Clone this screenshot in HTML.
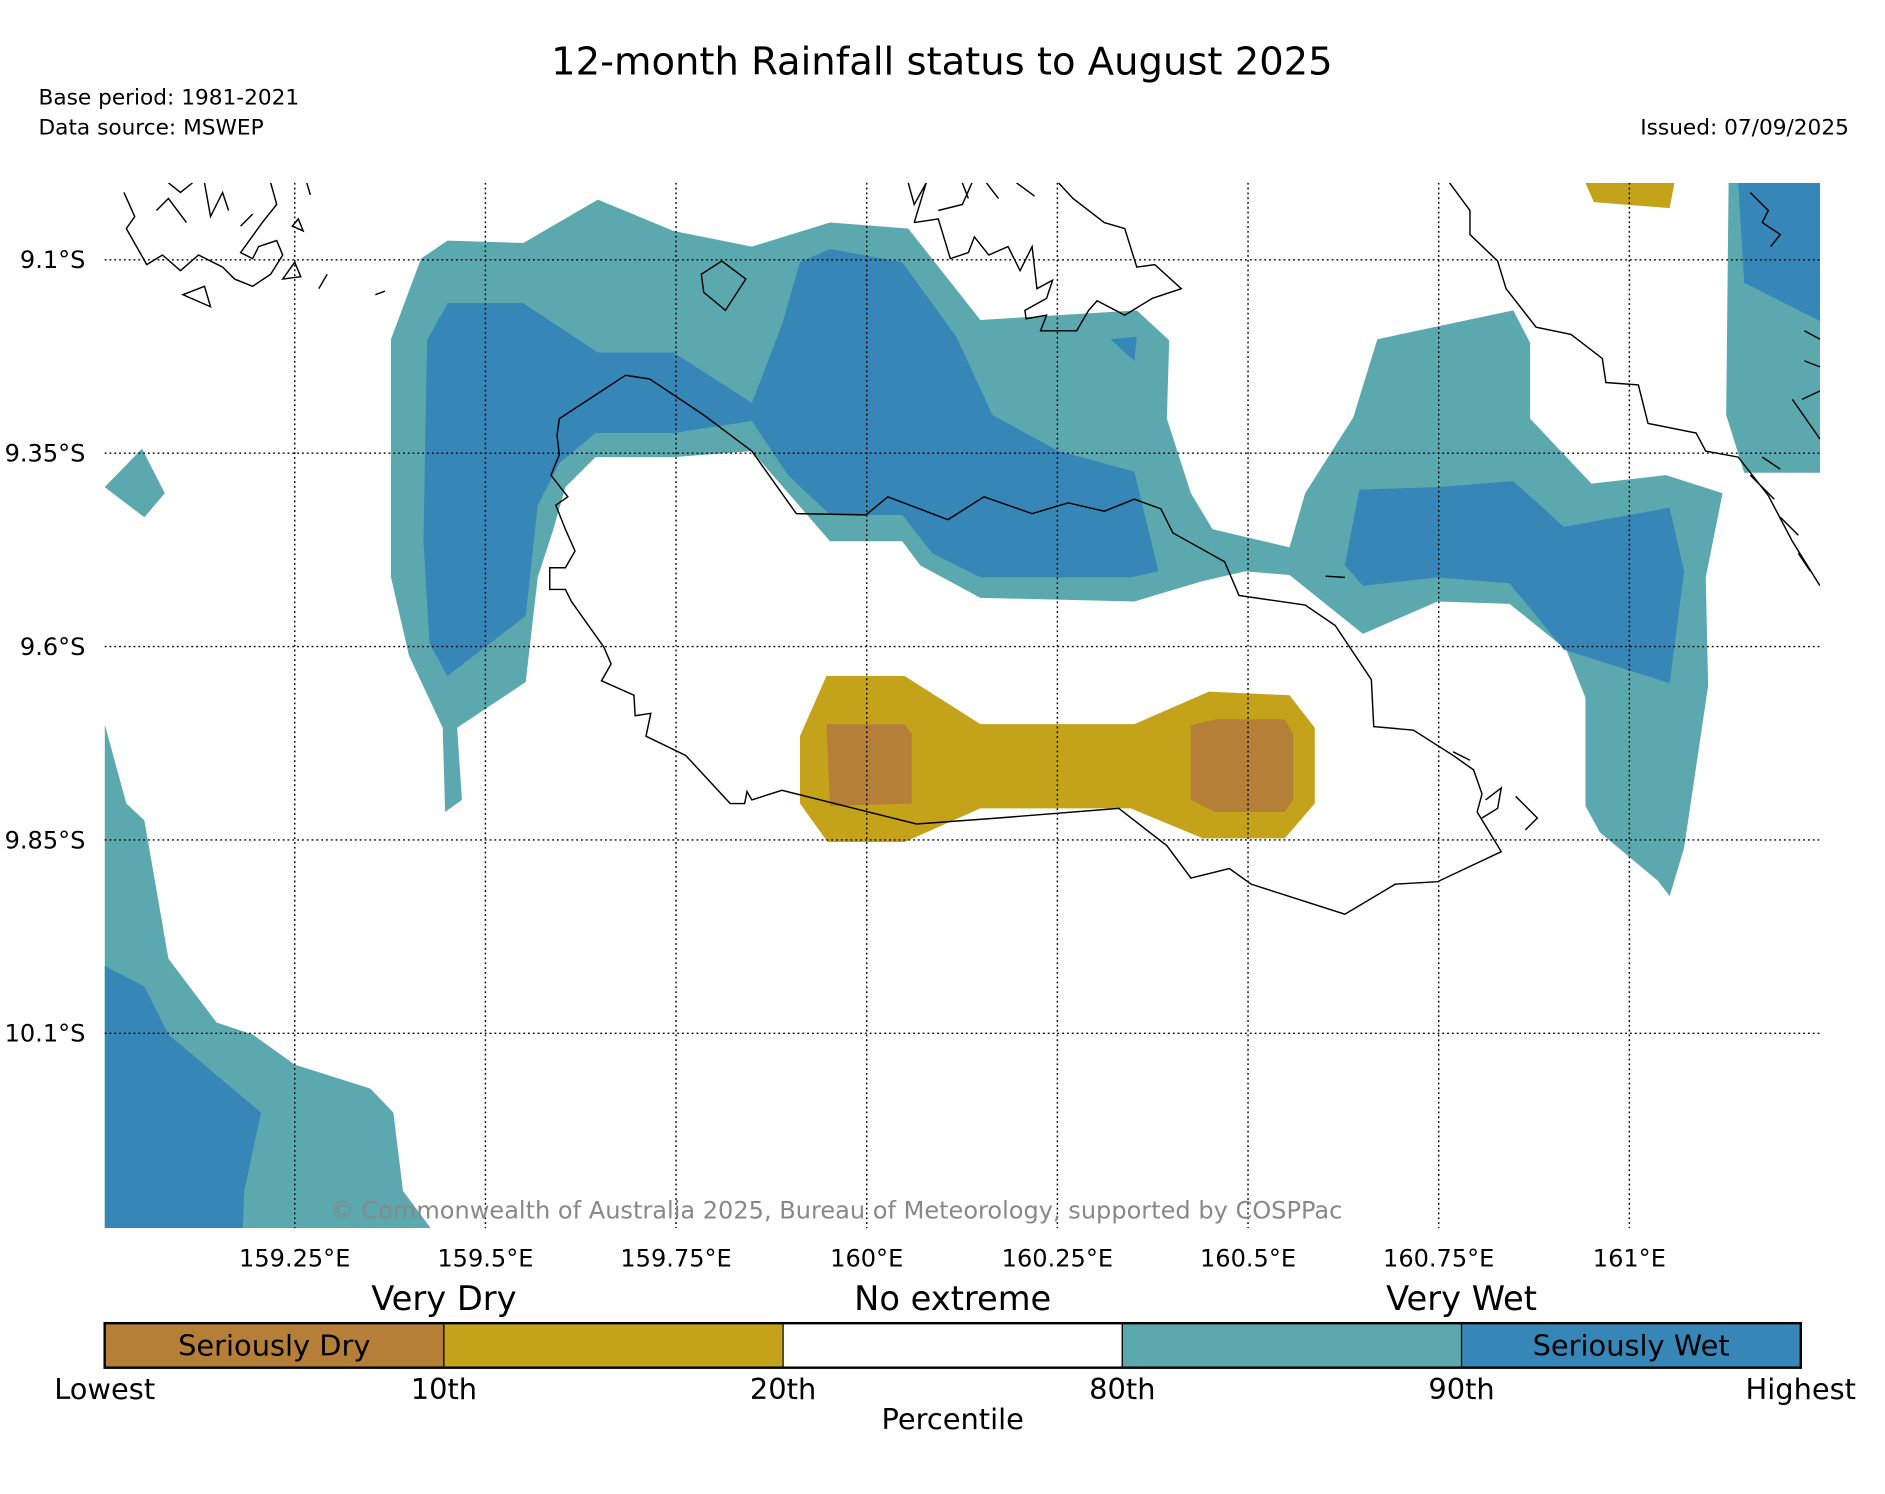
<!DOCTYPE html>
<html><head><meta charset="utf-8"><style>html,body{margin:0;padding:0;background:#fff}svg{display:block}text{font-family:"DejaVu Sans","Liberation Sans",sans-serif}</style></head>
<body>
<svg id="chart" width="1885" height="1494" viewBox="0 0 1567 1242" xmlns="http://www.w3.org/2000/svg">
<rect width="1567" height="1242" fill="#fff"/>
<text x="783" y="62" font-size="32" text-anchor="middle">12-month Rainfall status to August 2025</text>
<text x="32" y="87" font-size="18">Base period: 1981-2021</text>
<text x="32" y="112" font-size="18">Data source: MSWEP</text>
<text x="1537" y="112" font-size="18" text-anchor="end">Issued: 07/09/2025</text>
<g id="map">
<clipPath id="clip"><rect x="87" y="152" width="1426" height="869"/></clipPath>
<g clip-path="url(#clip)">
<g fill="#5ba9ae">
<polygon points="325,282 350,215 372,200 435,202 497,166 560,192 625,205 690,185 755,190 815,266 945,258 972,283 970,348 990,410 1008,440 1072,455 1085,410 1125,347 1145,282 1258,258 1272,285 1272,348 1323,402 1385,395 1432,410 1418,480 1420,570 1400,705 1388,745 1378,732 1330,692 1318,670 1318,580 1302,540 1255,502 1195,500 1133,527 1072,478 1035,475 1000,483 943,500 815,497 765,470 750,450 690,450 625,375 560,380 495,380 470,405 460,440 447,480 437,567 380,605 384,665 370,675 368,605 340,545 325,480"/>
<polygon points="1437,152 1513,152 1513,393 1450,393 1435,345"/>
<polygon points="87,405 118,373 137,410 120,430"/>
<polygon points="87,602 105,668 120,682 140,797 180,850 210,860 245,885 308,905 327,925 335,990 358,1021 87,1021"/>
</g>
<g fill="#3786b8">
<polygon points="355,283 372,252 435,252 497,293 560,293 625,335 650,270 665,218 690,207 750,218 795,280 825,345 880,375 943,392 963,475 940,480 815,480 775,460 750,428 690,428 655,395 625,350 560,360 495,360 465,385 447,420 437,512 372,562 357,535 352,450"/>
<polygon points="1118,470 1130,407 1195,405 1258,400 1300,438 1388,422 1400,475 1388,568 1300,540 1255,485 1195,480 1133,487"/>
<polygon points="1445,152 1513,152 1513,267 1450,235"/>
<polygon points="87,803 120,820 140,860 217,925 203,990 202,1021 87,1021"/>
<polygon points="923,282 945,280 943,300"/>
</g>
<g>
<polygon fill="#c4a31b" points="687,562 752,562 815,602 943,602 1005,575 1072,578 1093,605 1093,668 1068,697 1000,697 940,672 815,672 752,700 688,700 665,668 665,612"/>
<polygon fill="#c4a31b" points="1318,152 1392,152 1388,173 1325,168"/>
<polygon fill="#b67f37" points="687,602 752,602 758,610 758,668 690,670"/>
<polygon fill="#b67f37" points="990,603 1010,598 1068,598 1075,610 1075,665 1068,675 1010,675 990,665"/>
</g>
<g fill="none" stroke="#000" stroke-width="1.2">
<polyline points="465,348 520,312 540,315 585,345 625,375 662,427 720,428 738,413 788,432 818,413 858,427 888,418 918,425 943,415 965,423 975,443 1018,467 1030,495 1085,503 1110,520 1140,565 1142,604 1175,607 1208,628 1225,640 1232,660 1228,675 1248,708 1195,733 1160,735 1118,760 1040,735 1022,722 990,730 970,703 930,672 830,680 762,685 650,657 625,665 621,658 619,668 607,668 570,628 537,612 541,593 528,595 527,578 500,566 508,552 502,538 475,500 470,490 457,490 457,472 470,472 478,458 470,440 462,420 472,413 458,395 465,378 463,362 465,348"/>
<polyline points="1205,152 1222,175 1222,195 1245,217 1252,240 1277,272 1306,278 1332,298 1335,318 1362,320 1370,352 1410,360 1418,375 1445,380 1470,412 1490,450 1513,487"/>
<path d="M755,152 L760,170 770,152 M760,185 L780,182 790,215 805,210 810,197 822,212 838,205 848,225 858,205 862,240 875,233 870,248 852,258 853,265 870,262 865,275 895,275 905,258 912,250 935,262 958,248 982,240 960,220 945,222 935,190 918,185 892,165 880,152 M860,163 L845,152 M830,165 L820,152 M805,165 L800,152 M760,185 L770,152 M780,175 L800,170 808,152"/>
<polygon points="583,228 600,217 620,232 603,258 585,243"/>
<path d="M103,160 L112,180 105,190 122,220 135,212 150,225 165,212 185,222 195,232 210,238 225,228 235,212 230,200 215,205 210,215 200,210 218,185 230,170 225,152 M140,152 L150,160 160,152 M170,152 L175,180 185,160 190,175 M130,175 L140,165 155,185 M152,245 L170,238 175,255 Z M235,232 L245,218 250,230 Z M243,188 L248,182 252,192 Z M265,240 L272,228 M312,245 L320,242 M255,152 L258,162 M200,188 L210,178"/>
<path d="M1498,332 L1513,325 M1490,332 L1513,365 M1500,275 L1513,282 M1500,300 L1513,305 M1455,395 L1475,415 M1480,430 L1495,445 M1495,460 L1505,475 M1465,380 L1480,390 M1235,665 L1248,655 1245,672 1232,680 M1260,662 L1278,680 1268,690 M1208,625 L1222,632 M1102,479 L1118,480 M1455,160 L1470,175 1465,185 1480,195 1472,205"/>
</g>
</g>
<g id="grid"></g>
<g id="ticks"></g>
</g>
<text x="695" y="1013" font-size="20" fill="#888" text-anchor="middle">© Commonwealth of Australia 2025, Bureau of Meteorology, supported by COSPPac</text>
<g id="colorbar"></g>
<script>
const lonTicks = [159.25, 159.5, 159.75, 160, 160.25, 160.5, 160.75, 161];
const lonLabels = ["159.25°E","159.5°E","159.75°E","160°E","160.25°E","160.5°E","160.75°E","161°E"];
const latTicks = [9.1, 9.35, 9.6, 9.85, 10.1];
const latLabels = ["9.1°S","9.35°S","9.6°S","9.85°S","10.1°S"];
const cbColors = ["#b67f37","#c4a31b","#ffffff","#5ba9ae","#3786b8"];
const cbSegLabels = ["Seriously Dry","","","","Seriously Wet"];
const cbTickLabels = ["Lowest","10th","20th","80th","90th","Highest"];
const cbGroupLabels = ["Very Dry","No extreme","Very Wet"];
const cbGroupPos = [1, 2.5, 4];

const NS = "http://www.w3.org/2000/svg";
const xLon = lon => 245 + (lon - 159.25) * 634;
const yLat = lat => 216 + (lat - 9.1) * 643;
function mk(tag, attrs, parent, txt) {
  const e = document.createElementNS(NS, tag);
  for (const k in attrs) e.setAttribute(k, attrs[k]);
  if (txt !== undefined) e.textContent = txt;
  parent.appendChild(e);
  return e;
}
const grid = document.getElementById('grid');
const ticks = document.getElementById('ticks');
lonTicks.forEach((lon, i) => {
  const l = mk('line', {x1: xLon(lon), x2: xLon(lon), y1: 152, y2: 1021, stroke: '#000', 'stroke-width': 1.2, 'stroke-dasharray': '1.5,2.5'}, grid);
  
  
  const t = mk('text', {x: xLon(lon), y: 1053, 'font-size': 20, 'text-anchor': 'middle'}, ticks, lonLabels[i]);
  
  
});
latTicks.forEach((lat, i) => {
  const l = mk('line', {x1: 87, x2: 1513, y1: yLat(lat), y2: yLat(lat), stroke: '#000', 'stroke-width': 1.2, 'stroke-dasharray': '1.5,2.5'}, grid);
  
  
  const t = mk('text', {x: 71, y: yLat(lat) + 7, 'font-size': 20, 'text-anchor': 'end'}, ticks, latLabels[i]);
  
  
});
const cb = document.getElementById('colorbar');
const cbX0 = 87, cbW = 1410, cbY = 1100, cbH = 37;
const segW = cbW / cbColors.length;
cbColors.forEach((c, i) => {
  const r = mk('rect', {x: cbX0 + i * segW, y: cbY, width: segW, height: cbH, fill: c, stroke: '#000', 'stroke-width': 1}, cb);
  
  
  if (cbSegLabels[i]) {
    const t = mk('text', {x: cbX0 + (i + 0.5) * segW, y: cbY + 27, 'font-size': 24, 'text-anchor': 'middle'}, cb, cbSegLabels[i]);
    
    
  }
});
const border = mk('rect', {x: cbX0, y: cbY, width: cbW, height: cbH, fill: 'none', stroke: '#000', 'stroke-width': 2}, cb);


cbTickLabels.forEach((s, i) => {
  const t = mk('text', {x: cbX0 + i * segW, y: 1163, 'font-size': 24, 'text-anchor': 'middle'}, cb, s);
  
  
});
cbGroupLabels.forEach((s, i) => {
  const t = mk('text', {x: cbX0 + cbGroupPos[i] * segW, y: 1089, 'font-size': 28, 'text-anchor': 'middle'}, cb, s);
  
  
});
const pt = mk('text', {x: cbX0 + cbW / 2, y: 1188, 'font-size': 24, 'text-anchor': 'middle'}, cb, 'Percentile');


</script>
</svg>
</body></html>
